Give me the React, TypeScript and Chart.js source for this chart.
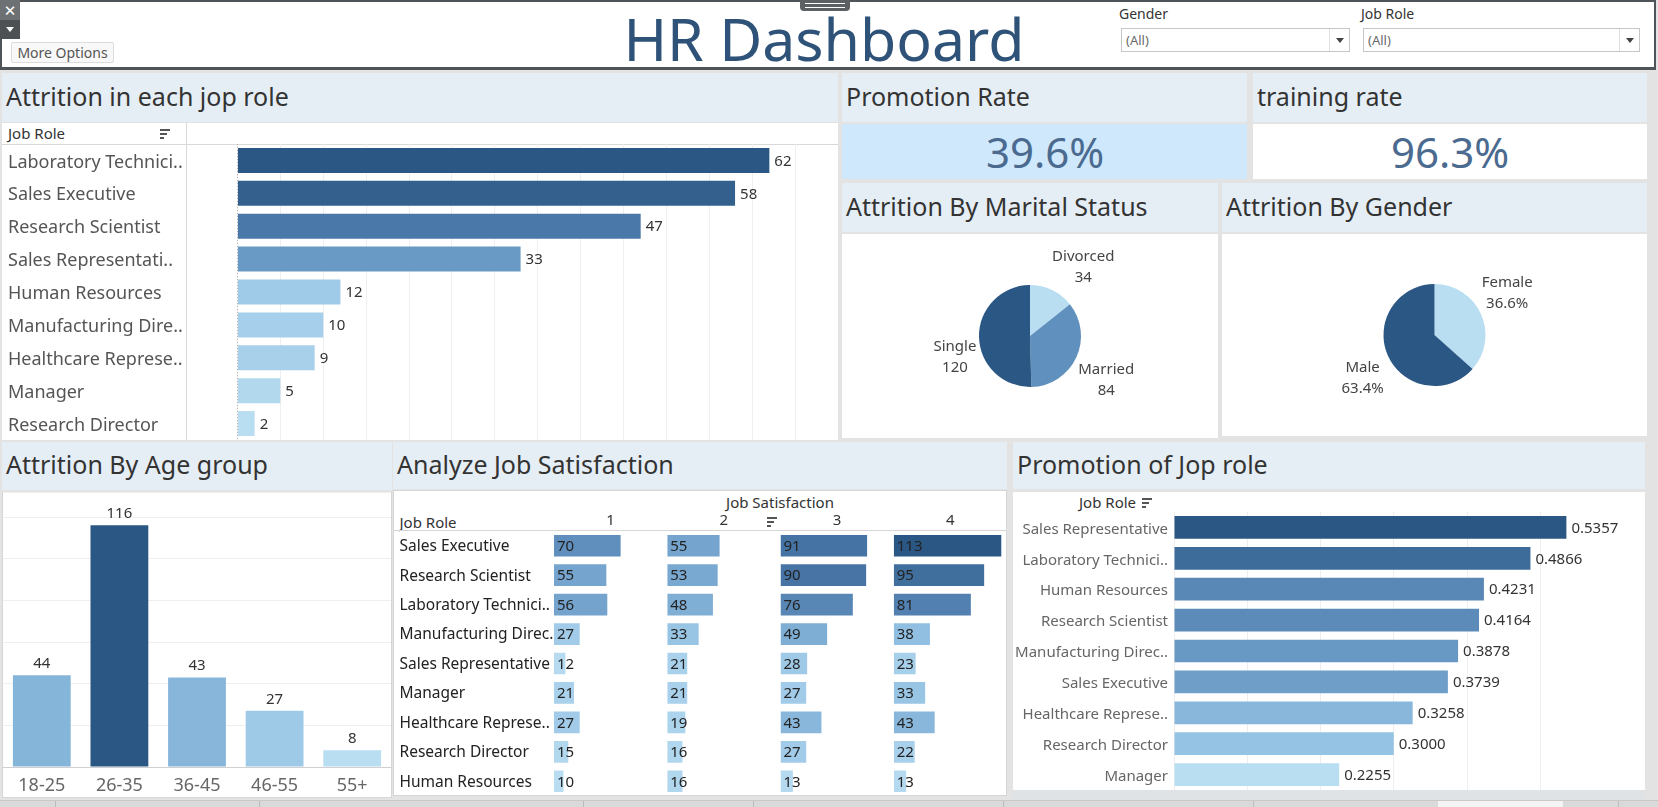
import React, { useEffect, useRef } from "react";
import { Chart, registerables } from "chart.js";

Chart.register(...registerables);

const FONT = '"Noto Sans", "DejaVu Sans", Arial, sans-serif';
Chart.defaults.font.family = FONT;

// ---- data ----
const attritionRoles = [
  "Laboratory Technici..",
  "Sales Executive",
  "Research Scientist",
  "Sales Representati..",
  "Human Resources",
  "Manufacturing Dire..",
  "Healthcare Represe..",
  "Manager",
  "Research Director",
];
const attritionCounts = [62, 58, 47, 33, 12, 10, 9, 5, 2];

const maritalLabels = ["Divorced", "Married", "Single"];
const maritalCounts = [34, 84, 120];

const genderLabels = ["Female", "Male"];
const genderShares = [36.6, 63.4];

const ageGroups = ["18-25", "26-35", "36-45", "46-55", "55+"];
const ageCounts = [44, 116, 43, 27, 8];

const satisfactionRoles = [
  "Sales Executive",
  "Research Scientist",
  "Laboratory Technici..",
  "Manufacturing Direc..",
  "Sales Representative",
  "Manager",
  "Healthcare Represe..",
  "Research Director",
  "Human Resources",
];
const satisfactionLevels = ["1", "2", "3", "4"];
const satisfaction1 = [70, 55, 56, 27, 12, 21, 27, 15, 10];
const satisfaction2 = [55, 53, 48, 33, 21, 21, 19, 16, 16];
const satisfaction3 = [91, 90, 76, 49, 28, 27, 43, 27, 13];
const satisfaction4 = [113, 95, 81, 38, 23, 33, 43, 22, 13];

const promotionRoles = [
  "Sales Representative",
  "Laboratory Technici..",
  "Human Resources",
  "Research Scientist",
  "Manufacturing Direc..",
  "Sales Executive",
  "Healthcare Represe..",
  "Research Director",
  "Manager",
];
const promotionRates = [0.5357, 0.4866, 0.4231, 0.4164, 0.3878, 0.3739, 0.3258, 0.3, 0.2255];

const promotionRateText = "39.6%";
const trainingRateText = "96.3%";

// ---- colour ramp (light to dark blue) ----
const BLUE_RAMP = ["#b9ddf1", "#94c2e3", "#6b9bc7", "#4a78a8", "#2a5783"];

function hexRgb(h: string): number[] {
  return [1, 3, 5].map((i) => parseInt(h.slice(i, i + 2), 16));
}

function rampColor(value: number, lo: number, hi: number): string {
  const t = Math.max(0, Math.min(1, (value - lo) / (hi - lo)));
  const seg = t * (BLUE_RAMP.length - 1);
  const i = Math.min(Math.floor(seg), BLUE_RAMP.length - 2);
  const f = seg - i;
  const a = hexRgb(BLUE_RAMP[i]);
  const b = hexRgb(BLUE_RAMP[i + 1]);
  const c = a.map((v, k) => Math.round(v + (b[k] - v) * f));
  return `rgb(${c[0]},${c[1]},${c[2]})`;
}

function colorsFor(values: number[], lo = Math.min(...values), hi = Math.max(...values)): string[] {
  return values.map((v) => rampColor(v, lo, hi));
}

// category axis with a fixed width and no extra edge padding
function fixedWidth(width: number) {
  return (s: any) => {
    s.width = width;
    s.paddingTop = 0;
    s.paddingBottom = 0;
  };
}

// ---- plugins ----
const valueLabels = {
  id: "valueLabels",
  afterDatasetsDraw(chart: any, _args: any, opts: any) {
    if (!opts || !opts.mode) return;
    const ctx = chart.ctx;
    ctx.save();
    ctx.font = `${opts.size}px ${FONT}`;
    ctx.fillStyle = opts.color;
    chart.data.datasets.forEach((ds: any, di: number) => {
      const meta = chart.getDatasetMeta(di);
      meta.data.forEach((el: any, i: number) => {
        const v = ds.data[i] as number;
        const text = opts.decimals >= 0 ? v.toFixed(opts.decimals) : String(v);
        const p = el.getProps(["x", "y", "base"], true);
        if (opts.mode === "end") {
          ctx.textAlign = "left";
          ctx.textBaseline = "middle";
          ctx.fillText(text, p.x + opts.gap, p.y + 1);
        } else if (opts.mode === "inside") {
          ctx.textAlign = "left";
          ctx.textBaseline = "middle";
          ctx.fillText(text, p.base + opts.gap, p.y + 1);
        } else {
          ctx.textAlign = "center";
          ctx.textBaseline = "alphabetic";
          ctx.fillText(text, p.x, p.y - opts.gap);
        }
      });
    });
    ctx.restore();
  },
};

const zeroLine = {
  id: "zeroLine",
  beforeDatasetsDraw(chart: any, _args: any, opts: any) {
    if (!opts || !opts.color) return;
    const { ctx, chartArea } = chart;
    const x = Math.round(chart.scales.x.getPixelForValue(0)) + 0.5;
    ctx.save();
    ctx.strokeStyle = opts.color;
    ctx.lineWidth = 1;
    ctx.setLineDash([1, 2]);
    ctx.beginPath();
    ctx.moveTo(x, chartArea.top);
    ctx.lineTo(x, chartArea.bottom);
    ctx.stroke();
    ctx.restore();
  },
};

const pieLabels = {
  id: "pieLabels",
  afterDatasetsDraw(chart: any, _args: any, opts: any) {
    if (!opts || !opts.distance) return;
    const ctx = chart.ctx;
    const meta = chart.getDatasetMeta(0);
    const values = chart.data.datasets[0].data as number[];
    ctx.save();
    ctx.font = `${opts.size}px ${FONT}`;
    ctx.fillStyle = opts.color;
    ctx.textAlign = "center";
    ctx.textBaseline = "middle";
    meta.data.forEach((arc: any, i: number) => {
      const p = arc.getProps(["x", "y", "startAngle", "endAngle", "outerRadius"], true);
      const mid = (p.startAngle + p.endAngle) / 2 + (opts.angleShift[i] * Math.PI) / 180;
      const r = p.outerRadius + opts.distance[i];
      const cx = p.x + Math.cos(mid) * r;
      const cy = p.y + Math.sin(mid) * r;
      const v = values[i];
      const valText = opts.decimals >= 0 ? v.toFixed(opts.decimals) + opts.suffix : String(v);
      ctx.fillText(String(chart.data.labels[i]), cx, cy - opts.lineGap / 2);
      ctx.fillText(valText, cx, cy + opts.lineGap / 2);
    });
    ctx.restore();
  },
};

const quiet = { legend: { display: false }, tooltip: { enabled: false } };

// ---- chart configs ----
const attritionConfig = () => ({
  type: "bar",
  data: {
    labels: attritionRoles,
    datasets: [
      {
        data: attritionCounts,
        backgroundColor: colorsFor(attritionCounts),
        categoryPercentage: 1,
        barPercentage: 0.76,
      },
    ],
  },
  options: {
    indexAxis: "y",
    responsive: false,
    animation: false,
    layout: { padding: { left: 6, top: 21, right: 0, bottom: 0 } },
    scales: {
      x: {
        min: -6,
        max: 70,
        ticks: { display: false, stepSize: 5 },
        grid: { color: "#efefef", drawTicks: false },
        border: { display: false },
      },
      y: {
        ticks: { crossAlign: "far", color: "#555", font: { size: 18 }, padding: 0, labelOffset: 2 },
        grid: { display: false, drawTicks: false },
        border: { display: true, color: "#d9d9d9" },
        afterFit: fixedWidth(178),
      },
    },
    plugins: {
      ...quiet,
      valueLabels: { mode: "end", gap: 5, size: 15, color: "#333", decimals: -1 },
      zeroLine: { color: "#b5b5b5" },
    },
  },
  plugins: [valueLabels, zeroLine],
});

const maritalConfig = () => ({
  type: "pie",
  data: {
    labels: maritalLabels,
    datasets: [{ data: maritalCounts, backgroundColor: colorsFor(maritalCounts), borderWidth: 0, radius: 51 }],
  },
  options: {
    responsive: false,
    animation: false,
    plugins: {
      ...quiet,
      pieLabels: {
        distance: [36, 37, 27],
        angleShift: [12, 5, -15],
        lineGap: 21,
        size: 15,
        color: "#444",
        decimals: -1,
        suffix: "",
      },
    },
  },
  plugins: [pieLabels],
});

const genderConfig = () => ({
  type: "pie",
  data: {
    labels: genderLabels,
    datasets: [{ data: genderShares, backgroundColor: colorsFor(genderShares), borderWidth: 0, radius: 51 }],
  },
  options: {
    responsive: false,
    animation: false,
    plugins: {
      ...quiet,
      pieLabels: {
        distance: [33, 33],
        angleShift: [-6, -7],
        lineGap: 21,
        size: 15,
        color: "#444",
        decimals: 1,
        suffix: "%",
      },
    },
  },
  plugins: [pieLabels],
});

const ageConfig = () => ({
  type: "bar",
  data: {
    labels: ageGroups,
    datasets: [
      { data: ageCounts, backgroundColor: colorsFor(ageCounts), categoryPercentage: 1, barPercentage: 0.745 },
    ],
  },
  options: {
    responsive: false,
    animation: false,
    layout: { padding: 0 },
    scales: {
      x: {
        ticks: { color: "#666", font: { size: 18 }, padding: 8 },
        grid: { display: false, drawTicks: false },
        border: { display: true, color: "#d0d0d0" },
        afterFit: (s: any) => {
          s.height = 31;
        },
      },
      y: {
        min: 0,
        max: 132,
        ticks: { display: false, stepSize: 20 },
        grid: { color: "#efefef", drawTicks: false },
        border: { display: false },
      },
    },
    plugins: {
      ...quiet,
      valueLabels: { mode: "top", gap: 7, size: 15, color: "#333", decimals: -1 },
    },
  },
  plugins: [valueLabels],
});

const satisfactionSeries = [satisfaction1, satisfaction2, satisfaction3, satisfaction4];
const satisfactionAll = satisfactionSeries.flat();

const satisfactionConfig = () => {
  const lo = Math.min(...satisfactionAll);
  const hi = Math.max(...satisfactionAll);
  const scales: any = {
    y: {
      ticks: { crossAlign: "far", color: "#222", font: { size: 15.5 }, padding: 0, labelOffset: 1 },
      grid: { display: false, drawTicks: false },
      border: { display: false },
      afterFit: fixedWidth(154.5),
    },
  };
  // stacked top axes are laid out last-declared first, so declare them in reverse
  for (let k = satisfactionLevels.length - 1; k >= 0; k--) {
    scales["x" + (k + 1)] = {
      type: "linear",
      position: "top",
      stack: "satisfaction",
      stackWeight: 1,
      min: 0,
      max: 119,
      ticks: { display: false },
      grid: { display: false, drawTicks: false },
      border: { display: false },
      title: {
        display: true,
        text: satisfactionLevels[k],
        color: "#333",
        font: { size: 15 },
        padding: { top: 22, bottom: 0 },
      },
      afterFit: (s: any) => {
        s.height = 41;
      },
    };
  }
  return {
    type: "bar",
    data: {
      labels: satisfactionRoles,
      datasets: satisfactionSeries.map((d, k) => ({
        data: d,
        xAxisID: "x" + (k + 1),
        backgroundColor: colorsFor(d, lo, hi),
        grouped: false,
        categoryPercentage: 1,
        barPercentage: 0.735,
      })),
    },
    options: {
      indexAxis: "y",
      responsive: false,
      animation: false,
      layout: { padding: { left: 6.5, top: 0, right: 0, bottom: 0 } },
      scales,
      plugins: {
        ...quiet,
        valueLabels: { mode: "inside", gap: 3, size: 15, color: "#222", decimals: -1 },
      },
    },
    plugins: [valueLabels],
  };
};

const promotionConfig = () => ({
  type: "bar",
  data: {
    labels: promotionRoles,
    datasets: [
      {
        data: promotionRates,
        backgroundColor: colorsFor(promotionRates),
        categoryPercentage: 1,
        barPercentage: 0.735,
      },
    ],
  },
  options: {
    indexAxis: "y",
    responsive: false,
    animation: false,
    layout: { padding: { left: 0, top: 20, right: 0, bottom: 0 } },
    scales: {
      x: {
        min: 0,
        max: 0.643,
        ticks: { display: false, stepSize: 0.1 },
        grid: { color: "#eeeeee", drawTicks: false },
        border: { display: false },
      },
      y: {
        ticks: { color: "#666", font: { size: 15 }, padding: 6, labelOffset: 2 },
        grid: { display: false, drawTicks: false },
        border: { display: false },
        afterFit: fixedWidth(161),
      },
    },
    plugins: {
      ...quiet,
      valueLabels: { mode: "end", gap: 5, size: 15, color: "#333", decimals: 4 },
    },
  },
  plugins: [valueLabels],
});

// ---- building blocks ----
function ChartBox({ x, y, w, h, make }: { x: number; y: number; w: number; h: number; make: () => any }) {
  const ref = useRef<HTMLCanvasElement>(null);
  useEffect(() => {
    if (!ref.current) return;
    const chart = new Chart(ref.current, make());
    return () => chart.destroy();
  }, [make]);
  return (
    <canvas
      ref={ref}
      width={w}
      height={h}
      style={{ position: "absolute", left: x, top: y, width: w, height: h, display: "block" }}
    />
  );
}

function Box({ x, y, w, h, bg, border, style }: any) {
  return (
    <div
      style={{
        position: "absolute",
        left: x,
        top: y,
        width: w,
        height: h,
        background: bg,
        border,
        boxSizing: "border-box",
        ...style,
      }}
    />
  );
}

function Band({ x, y, w, h, text }: { x: number; y: number; w: number; h: number; text: string }) {
  return (
    <div
      style={{
        position: "absolute",
        left: x,
        top: y,
        width: w,
        height: h,
        background: "#e6eef5",
        color: "#333",
        font: `25px ${FONT}`,
        lineHeight: `${h - 3}px`,
        paddingLeft: 4,
        boxSizing: "border-box",
        whiteSpace: "nowrap",
        overflow: "hidden",
      }}
    >
      {text}
    </div>
  );
}

function Txt({ x, y, size, color, children, align, w }: any) {
  const lh = Math.round(size * 1.3);
  const width = w || 400;
  const left = align === "center" ? x - width / 2 : align === "right" ? x - width : x;
  return (
    <div
      style={{
        position: "absolute",
        left,
        top: y - lh / 2,
        width,
        height: lh,
        lineHeight: `${lh}px`,
        fontSize: size,
        fontFamily: FONT,
        color,
        textAlign: align || "left",
        whiteSpace: "nowrap",
      }}
    >
      {children}
    </div>
  );
}

function SortIcon({ x, y }: { x: number; y: number }) {
  return (
    <>
      {[10, 7, 4].map((w, i) => (
        <div
          key={i}
          style={{ position: "absolute", left: x, top: y + i * 4, width: w, height: 2, background: "#555" }}
        />
      ))}
    </>
  );
}

function Triangle({ x, y, color }: { x: number; y: number; color: string }) {
  return (
    <div
      style={{
        position: "absolute",
        left: x - 4,
        top: y - 2,
        width: 0,
        height: 0,
        borderLeft: "4px solid transparent",
        borderRight: "4px solid transparent",
        borderTop: `5px solid ${color}`,
      }}
    />
  );
}

function Dropdown({ x, y, w, label }: { x: number; y: number; w: number; label: string }) {
  return (
    <>
      <Txt x={x - 2} y={14} size={14} color="#333">
        {label}
      </Txt>
      <Box x={x} y={y} w={w} h={24} bg="#fff" border="1px solid #c6c6c6" />
      <Box x={x + w - 21} y={y + 1} w={1} h={22} bg="#e0e0e0" />
      <Txt x={x + 5} y={y + 12} size={13} color="#6a6a6a">
        (All)
      </Txt>
      <Triangle x={x + w - 10} y={y + 12} color="#444" />
    </>
  );
}

export default function App() {
  return (
    <div
      style={{
        position: "absolute",
        left: 0,
        top: 0,
        width: 1658,
        height: 807,
        background: "#e3e3e3",
        overflow: "hidden",
        fontFamily: FONT,
      }}
    >
      {/* header */}
      <Box x={0} y={0} w={1656} h={70} bg="#fff" border="2px solid #4f5458" style={{ borderBottomWidth: 3 }} />
      <Box x={800} y={0} w={50} h={11} bg="#5c6063" style={{ borderRadius: "0 0 4px 4px" }} />
      <Box x={805} y={3} w={40} h={1} bg="#fff" />
      <Box x={805} y={7} w={40} h={1} bg="#fff" />
      <Box x={0} y={0} w={20} h={20} bg="#6e7174" />
      <Txt x={10} y={10} size={15} color="#fff" align="center" w={20}>
        ✕
      </Txt>
      <Box x={0} y={20} w={20} h={19} bg="#4d5154" />
      <Triangle x={10} y={29} color="#fff" />
      <div
        style={{
          position: "absolute",
          left: 11,
          top: 42,
          width: 103,
          height: 21,
          boxSizing: "border-box",
          border: "1px solid #dcdcdc",
          borderRadius: 2,
          background: "#f8f8f8",
          color: "#555",
          fontSize: 14,
          lineHeight: "19px",
          textAlign: "center",
          fontFamily: FONT,
        }}
      >
        More Options
      </div>
      <div
        style={{
          position: "absolute",
          left: 524,
          top: 9,
          width: 600,
          height: 59,
          lineHeight: "59px",
          fontSize: 59,
          fontFamily: FONT,
          color: "#2f5279",
          textAlign: "center",
          whiteSpace: "nowrap",
        }}
      >
        HR Dashboard
      </div>
      <Dropdown x={1121} y={28} w={229} label="Gender" />
      <Dropdown x={1363} y={28} w={277} label="Job Role" />

      {/* attrition by job role */}
      <Band x={2} y={73} w={836} h={49} text="Attrition in each jop role" />
      <Box x={2} y={123} w={836} h={317} bg="#fff" />
      <Txt x={8} y={133} size={15} color="#333">
        Job Role
      </Txt>
      <SortIcon x={160} y={129} />
      <Box x={2} y={144} w={836} h={1} bg="#d9d9d9" />
      <Box x={186} y={123} w={1} h={21} bg="#d9d9d9" />
      <ChartBox x={2} y={123} w={836} h={317} make={attritionConfig} />

      {/* KPI tiles */}
      <Band x={842} y={73} w={405} h={49} text="Promotion Rate" />
      <Box x={842} y={124} w={405} h={55} bg="#cfe8fb" />
      <Txt x={1045} y={151} size={42} color="#4b6a8f" align="center" w={400}>
        {promotionRateText}
      </Txt>
      <Band x={1253} y={73} w={394} h={49} text="training rate" />
      <Box x={1253} y={124} w={394} h={55} bg="#fff" />
      <Txt x={1450} y={151} size={42} color="#4b6a8f" align="center" w={390}>
        {trainingRateText}
      </Txt>

      {/* pies */}
      <Band x={842} y={183} w={376} h={49} text="Attrition By Marital Status" />
      <Box x={842} y={234} w={376} h={204} bg="#fff" />
      <ChartBox x={842} y={234} w={376} h={204} make={maritalConfig} />
      <Band x={1222} y={183} w={425} h={49} text="Attrition By Gender" />
      <Box x={1222} y={234} w={425} h={202} bg="#fff" />
      <ChartBox x={1222} y={234} w={425} h={202} make={genderConfig} />

      {/* age group */}
      <Band x={2} y={442} w={390} h={48} text="Attrition By Age group" />
      <Box x={2} y={492} w={390} h={306} bg="#fff" border="1px solid #d6d6d6" />
      <ChartBox x={3} y={492} w={388} h={306} make={ageConfig} />

      {/* job satisfaction table */}
      <Band x={393} y={442} w={614} h={47} text="Analyze Job Satisfaction" />
      <Box x={393} y={490} w={614} h={306} bg="#fff" border="1px solid #d6d6d6" />
      <Txt x={780} y={502} size={15} color="#333" align="center" w={200}>
        Job Satisfaction
      </Txt>
      <Txt x={399.5} y={521.5} size={15} color="#333">
        Job Role
      </Txt>
      <SortIcon x={767} y={517} />
      <Box x={393} y={530} w={614} h={1} bg="#d6d6d6" />
      <ChartBox x={393} y={490} w={614} h={306} make={satisfactionConfig} />

      {/* promotion by job role */}
      <Band x={1013} y={442} w={632} h={47} text="Promotion of Jop role" />
      <Box x={1013} y={492} w={632} h={298} bg="#fff" />
      <Box x={1013} y={790} w={632} h={10} bg="#dfe3e6" />
      <Txt x={1079} y={502} size={15} color="#333">
        Job Role
      </Txt>
      <SortIcon x={1142} y={498} />
      <ChartBox x={1013} y={492} w={632} h={298} make={promotionConfig} />

      {/* bottom sheet strip */}
      <Box x={0} y={800} w={1658} h={7} bg="#dadada" style={{ borderTop: "1px solid #c9c9c9" }} />
      {[55, 259, 583, 753, 1003, 1253, 1618].map((sx) => (
        <Box key={sx} x={sx} y={801} w={1} h={6} bg="#bdbdbd" />
      ))}
      <Box x={1438} y={801} w={125} h={6} bg="#f4f4f4" />
    </div>
  );
}
